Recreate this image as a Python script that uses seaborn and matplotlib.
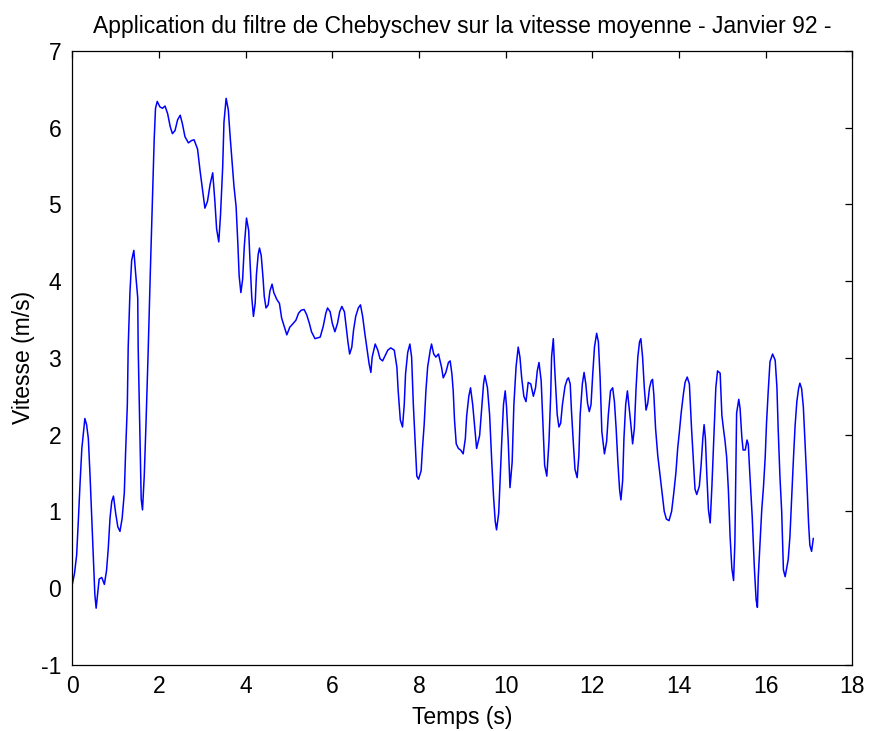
import matplotlib
matplotlib.use("Agg")
import matplotlib.pyplot as plt
import seaborn as sns
import pandas as pd

# Filtered mean velocity (Chebyshev), January 92
temps = [
    0.00, 0.05, 0.10, 0.14, 0.18, 0.22, 0.25, 0.29, 0.33, 0.37, 0.41, 0.45, 0.49, 0.52, 0.55, 0.59,
    0.62, 0.68, 0.74, 0.79, 0.83, 0.87, 0.91, 0.95, 1.00, 1.05, 1.10, 1.15, 1.20, 1.23, 1.27, 1.29,
    1.33, 1.37, 1.42, 1.46, 1.51, 1.52, 1.55, 1.59, 1.62, 1.66, 1.70, 1.75, 1.80, 1.85, 1.89, 1.92,
    1.96, 2.02, 2.08, 2.14, 2.20, 2.26, 2.31, 2.37, 2.43, 2.49, 2.54, 2.60, 2.68, 2.75,
    2.81, 2.89, 2.95, 3.01, 3.06, 3.12, 3.18, 3.24, 3.29, 3.33, 3.38, 3.42, 3.47, 3.50, 3.55, 3.60,
    3.64, 3.68, 3.73, 3.78, 3.82, 3.85, 3.89, 3.93, 3.97, 4.02, 4.07, 4.10, 4.14, 4.18, 4.22, 4.25,
    4.29, 4.32, 4.36, 4.40, 4.43, 4.47, 4.52, 4.56, 4.61, 4.65, 4.72, 4.78, 4.83, 4.89, 4.95, 5.02,
    5.10, 5.16, 5.22, 5.28, 5.35, 5.41, 5.47, 5.52, 5.60, 5.72, 5.79, 5.85, 5.89, 5.95, 6.00, 6.06,
    6.12, 6.17, 6.22, 6.28, 6.32, 6.36, 6.40, 6.45, 6.49, 6.54, 6.60, 6.65, 6.70, 6.75, 6.80, 6.85,
    6.89, 6.92, 6.99, 7.05, 7.10, 7.16, 7.22, 7.28, 7.35, 7.43, 7.49, 7.52, 7.57, 7.62, 7.66, 7.69,
    7.74, 7.79, 7.83, 7.87, 7.91, 7.95, 7.99, 8.05, 8.08, 8.12, 8.16, 8.20, 8.26, 8.29, 8.34, 8.39,
    8.45, 8.52, 8.56, 8.62, 8.68, 8.72, 8.76, 8.79, 8.82, 8.86, 8.91, 8.96, 9.02, 9.07, 9.10, 9.15,
    9.19, 9.24, 9.29, 9.33, 9.40, 9.45, 9.49, 9.52, 9.58, 9.63, 9.68, 9.72, 9.76, 9.79, 9.84, 9.87,
    9.91, 9.95, 9.99, 10.02, 10.06, 10.10, 10.15, 10.19, 10.24, 10.29, 10.33, 10.37, 10.42, 10.47,
    10.52, 10.58, 10.64, 10.69, 10.73, 10.77, 10.82, 10.86, 10.90, 10.95, 11.00, 11.04, 11.06, 11.10,
    11.13, 11.16, 11.19, 11.23, 11.27, 11.31, 11.37, 11.42, 11.45, 11.49, 11.52, 11.56, 11.60, 11.65,
    11.69, 11.72, 11.77, 11.81, 11.85, 11.89, 11.93, 11.97, 12.01, 12.05, 12.10, 12.14, 12.18, 12.22,
    12.28, 12.33, 12.37, 12.42, 12.47, 12.51, 12.55, 12.59, 12.63, 12.66, 12.70, 12.73, 12.77, 12.81,
    12.85, 12.89, 12.93, 12.97, 13.01, 13.05, 13.09, 13.12, 13.16, 13.20, 13.24, 13.28, 13.32, 13.36,
    13.39, 13.42, 13.46, 13.51, 13.56, 13.62, 13.66, 13.71, 13.77, 13.83, 13.88, 13.93, 13.97, 14.01,
    14.05, 14.10, 14.14, 14.19, 14.24, 14.29, 14.34, 14.37, 14.41, 14.47, 14.51, 14.55, 14.58, 14.61,
    14.64, 14.68, 14.72, 14.76, 14.81, 14.85, 14.89, 14.95, 14.99, 15.03, 15.06, 15.10, 15.14, 15.18,
    15.22, 15.26, 15.29, 15.33, 15.38, 15.41, 15.45, 15.48, 15.53, 15.57, 15.60, 15.63, 15.69, 15.74,
    15.78, 15.81, 15.83, 15.87, 15.91, 15.95, 15.99, 16.02, 16.06, 16.10, 16.16, 16.22, 16.26, 16.29,
    16.33, 16.37, 16.41, 16.45, 16.52, 16.56, 16.60, 16.64, 16.68, 16.72, 16.76, 16.79, 16.83, 16.87,
    16.91, 16.95, 16.99, 17.02, 17.06, 17.10,
]

vitesse = [
    0.05, 0.19, 0.43, 0.89, 1.38, 1.82, 1.99, 2.21, 2.13, 1.95, 1.46, 0.89, 0.32, -0.08, -0.26, -0.04,
    0.12, 0.14, 0.05, 0.23, 0.52, 0.91, 1.13, 1.20, 0.98, 0.80, 0.74, 0.91, 1.24, 1.77, 2.39, 3.14,
    3.85, 4.27, 4.40, 4.11, 3.78, 3.14, 2.30, 1.16, 1.02, 1.46, 2.13, 3.07, 4.11, 5.06, 5.85, 6.25,
    6.34, 6.27, 6.25, 6.28, 6.18, 6.01, 5.92, 5.96, 6.10, 6.16, 6.05, 5.88, 5.80, 5.83,
    5.84, 5.72, 5.43, 5.17, 4.95, 5.04, 5.26, 5.41, 5.04, 4.68, 4.51, 4.86, 5.48, 6.07, 6.38, 6.23,
    5.90, 5.61, 5.24, 4.97, 4.49, 4.07, 3.85, 4.02, 4.46, 4.82, 4.66, 4.27, 3.80, 3.54, 3.71, 4.09,
    4.35, 4.43, 4.33, 4.05, 3.80, 3.65, 3.69, 3.87, 3.96, 3.85, 3.76, 3.71, 3.52, 3.41, 3.30, 3.40,
    3.45, 3.49, 3.58, 3.62, 3.63, 3.56, 3.45, 3.34, 3.25, 3.27, 3.41, 3.58, 3.65, 3.60, 3.45, 3.34,
    3.45, 3.60, 3.67, 3.60, 3.41, 3.21, 3.05, 3.14, 3.36, 3.54, 3.65, 3.69, 3.54, 3.32, 3.12, 2.92,
    2.81, 3.01, 3.18, 3.10, 2.99, 2.96, 3.03, 3.10, 3.13, 3.10, 2.88, 2.57, 2.19, 2.10, 2.39, 2.79,
    3.07, 3.18, 3.01, 2.39, 1.91, 1.46, 1.42, 1.53, 1.82, 2.13, 2.57, 2.88, 3.10, 3.18, 3.05, 3.01,
    3.05, 2.88, 2.74, 2.81, 2.94, 2.96, 2.79, 2.57, 2.19, 1.88, 1.82, 1.80, 1.75, 1.95, 2.24, 2.50,
    2.61, 2.39, 2.08, 1.82, 1.99, 2.37, 2.66, 2.77, 2.61, 2.26, 1.64, 1.20, 0.87, 0.76, 0.98, 1.38,
    1.91, 2.39, 2.57, 2.37, 1.91, 1.31, 1.64, 2.39, 2.88, 3.14, 3.01, 2.74, 2.50, 2.43,
    2.68, 2.66, 2.50, 2.61, 2.83, 2.94, 2.70, 2.15, 1.60, 1.46, 1.91, 2.52, 3.01, 3.25,
    2.88, 2.57, 2.26, 2.10, 2.15, 2.39, 2.63, 2.72, 2.74, 2.66, 2.30, 1.91, 1.55, 1.44,
    1.73, 2.26, 2.66, 2.81, 2.66, 2.41, 2.30, 2.39, 2.79, 3.14, 3.32, 3.21, 2.74, 2.04,
    1.75, 1.91, 2.26, 2.57, 2.61, 2.43, 2.08, 1.64, 1.28, 1.15, 1.40, 1.95, 2.39, 2.57,
    2.35, 2.13, 1.88, 2.08, 2.61, 3.01, 3.21, 3.25, 3.01, 2.61, 2.32, 2.41, 2.61, 2.70,
    2.72, 2.52, 2.08, 1.73, 1.49, 1.20, 1.00, 0.90, 0.88, 1.00, 1.24, 1.51, 1.82, 2.04,
    2.28, 2.52, 2.68, 2.75, 2.66, 2.08, 1.60, 1.29, 1.22, 1.33, 1.60, 1.95, 2.13, 1.95,
    1.51, 1.02, 0.85, 1.33, 2.04, 2.61, 2.83, 2.80, 2.25, 2.06, 1.93, 1.71, 1.28, 0.67,
    0.26, 0.10, 0.60, 2.28, 2.46, 2.34, 1.97, 1.80, 1.80, 1.93, 1.87, 1.54, 0.93, 0.26,
    -0.15, -0.25, 0.15, 0.59, 1.02, 1.32, 1.71, 2.15, 2.57, 2.95, 3.05, 2.97, 2.62, 2.06,
    1.45, 1.00, 0.24, 0.15, 0.37, 0.67, 1.17, 1.67, 2.12, 2.43, 2.60, 2.67, 2.60, 2.36,
    1.89, 1.40, 0.85, 0.56, 0.48, 0.65,
]

x_ticks = [0, 2, 4, 6, 8, 10, 12, 14, 16, 18]
y_ticks = [-1, 0, 1, 2, 3, 4, 5, 6, 7]

sns.set_style("white")
plt.rcParams["font.family"] = ["Liberation Sans", "DejaVu Sans"]
plt.rcParams["axes.unicode_minus"] = False
plt.rcParams["text.color"] = "black"
plt.rcParams["axes.labelcolor"] = "black"

FS = 16.5

df = pd.DataFrame({"Temps": temps, "Vitesse": vitesse})

fig = plt.figure(figsize=(8.69, 7.31), dpi=100)
ax = fig.add_axes([0.0832, 0.0903, 0.8976, 0.8403])

sns.lineplot(data=df, x="Temps", y="Vitesse", ax=ax, color="#0000ff",
             linewidth=1.1, estimator=None, sort=False)

ax.set_xlim(0, 18)
ax.set_ylim(-1, 7)
ax.set_xticks(x_ticks)
ax.set_yticks(y_ticks)
ax.tick_params(direction="in", length=5, width=0.9, colors="black",
               top=True, right=True, labelsize=FS)
ax.tick_params(axis="x", pad=7)
ax.tick_params(axis="y", pad=8)
for sp in ax.spines.values():
    sp.set_visible(True)
    sp.set_color("black")
    sp.set_linewidth(0.9)

ax.set_title("Application du filtre de Chebyschev sur la vitesse moyenne - Janvier 92 -",
             fontsize=FS, pad=13, color="black")
ax.set_xlabel("Temps (s)", fontsize=FS, labelpad=6)
ax.set_ylabel("Vitesse (m/s)", fontsize=FS, labelpad=4)

fig.savefig("out.png", dpi=100, facecolor="white")
